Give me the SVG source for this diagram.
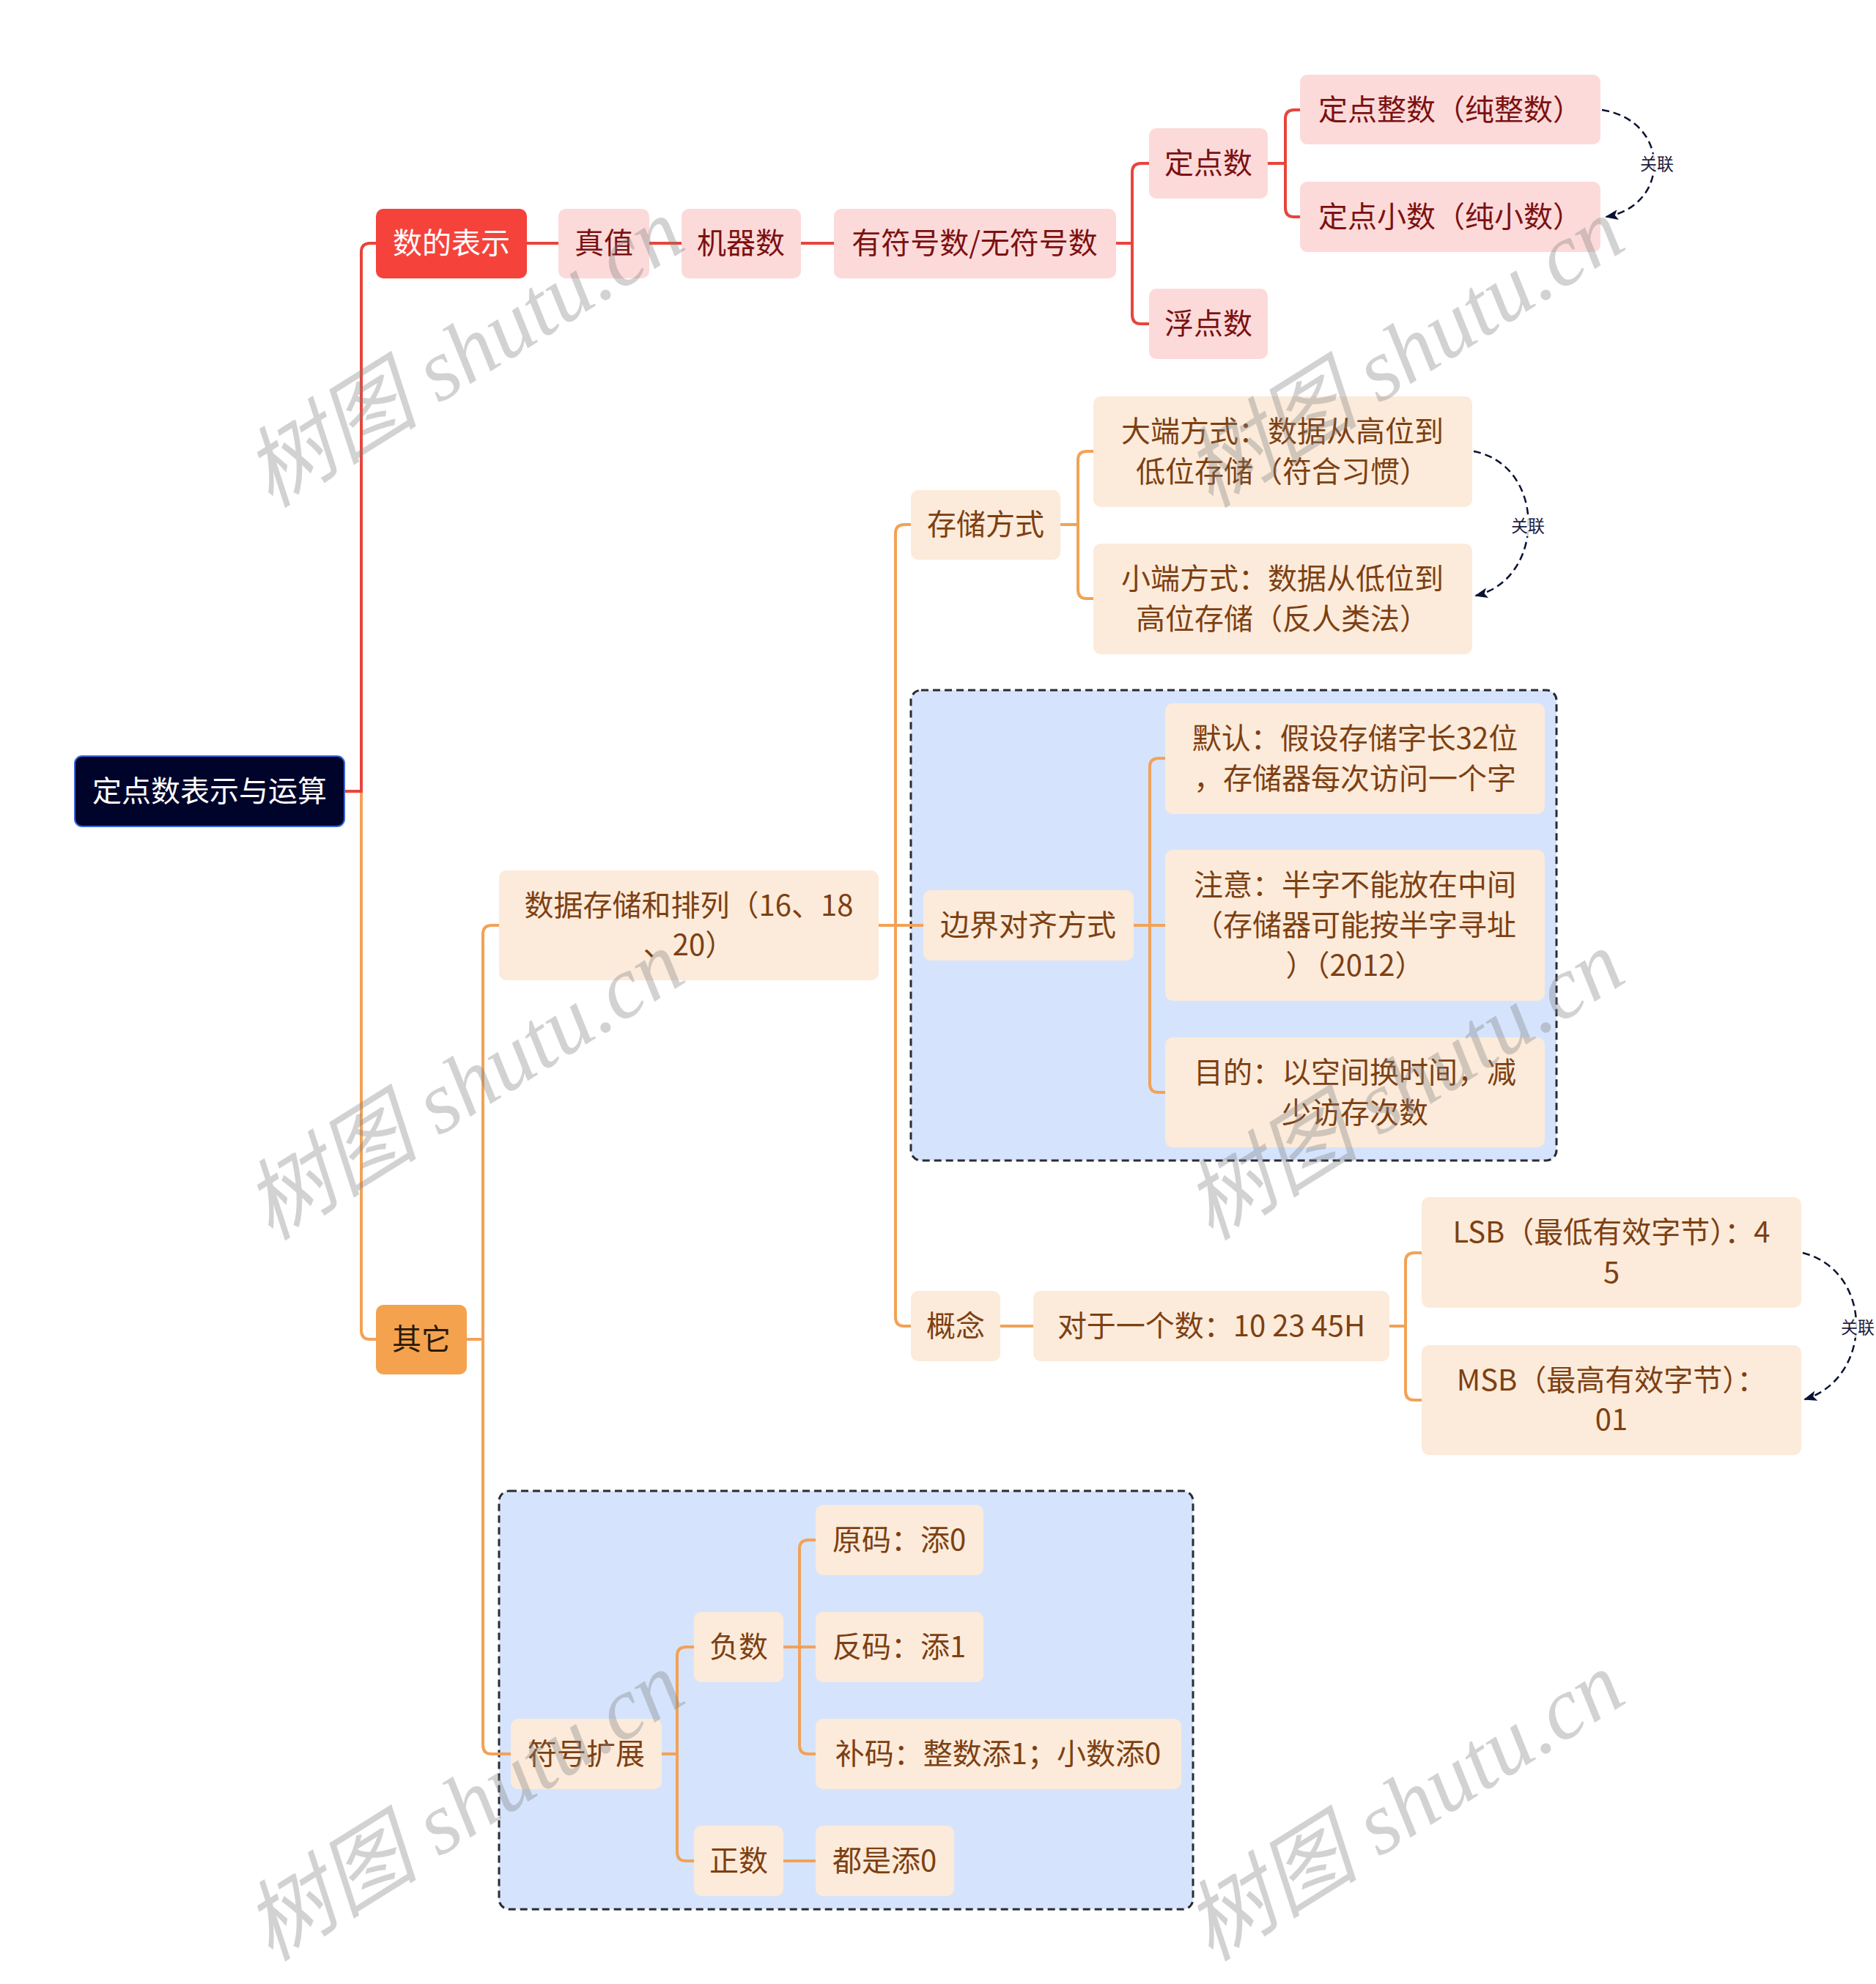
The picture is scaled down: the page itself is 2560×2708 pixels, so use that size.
<svg xmlns="http://www.w3.org/2000/svg" width="2560" height="2708" viewBox="0 0 2560 2708">
<style>
.t{font-family:"Noto Sans CJK SC","Noto Sans",sans-serif;font-size:40px;text-anchor:middle}
.red rect{fill:#fcdada}
.red text{fill:#7b1111}
.org rect{fill:#fcebda}
.org text{fill:#7d4013}
.cr{fill:none;stroke:#e8453c;stroke-width:4}
.co{fill:none;stroke:#f2a257;stroke-width:4}
.grp{fill:#d5e4fc;stroke:#2b2b33;stroke-width:3;stroke-dasharray:10 6}
.rel{fill:none;stroke:#0b1233;stroke-width:2.5;stroke-dasharray:10 6}
.rl{font-family:"Noto Sans CJK SC",sans-serif;font-size:23px;fill:#1a2040;text-anchor:middle}
.wm{font-family:"Liberation Serif","Noto Sans CJK SC",serif;font-style:italic;font-size:120px;fill:#808080;opacity:0.35;text-anchor:middle}
</style>
<defs>
<marker id="ah" markerWidth="20" markerHeight="16" refX="16" refY="7" orient="auto" markerUnits="userSpaceOnUse">
<path d="M0,0 L18,7 L0,14 L4,7 Z" fill="#0b1233"/>
</marker>
</defs>
<rect width="2560" height="2708" fill="#ffffff"/>
<g id="groups">
<rect class="grp" x="1243" y="942" width="881" height="642" rx="14"/>
<rect class="grp" x="681" y="2035" width="947" height="571" rx="14"/>
</g>
<g id="connectors">
<path class="co" d="M470,1080 H493 V1816 Q493,1828 505,1828 H513"/>
<path class="cr" d="M470,1080 H493 V344 Q493,332 505,332 H513"/>
<path class="cr" d="M719,332 H762"/>
<path class="cr" d="M886,332 H930"/>
<path class="cr" d="M1093,332 H1138"/>
<path class="cr" d="M1523,332 H1545 V235 Q1545,223 1557,223 H1568"/>
<path class="cr" d="M1523,332 H1545 V430 Q1545,442 1557,442 H1568"/>
<path class="cr" d="M1730,223 H1754 V162 Q1754,150 1766,150 H1774"/>
<path class="cr" d="M1730,223 H1754 V284 Q1754,296 1766,296 H1774"/>
<path class="co" d="M637,1828 H659 V1275 Q659,1263 671,1263 H681"/>
<path class="co" d="M637,1828 H659 V2382 Q659,2394 671,2394 H697"/>
<path class="co" d="M1199,1263 H1222 V728 Q1222,716 1234,716 H1243"/>
<path class="co" d="M1199,1263 H1260"/>
<path class="co" d="M1199,1263 H1222 V1798 Q1222,1810 1234,1810 H1243"/>
<path class="co" d="M1447,716 H1471 V628 Q1471,616 1483,616 H1492"/>
<path class="co" d="M1447,716 H1471 V805 Q1471,817 1483,817 H1492"/>
<path class="co" d="M1547,1263 H1569 V1047 Q1569,1035 1581,1035 H1590"/>
<path class="co" d="M1547,1263 H1590"/>
<path class="co" d="M1547,1263 H1569 V1479 Q1569,1491 1581,1491 H1590"/>
<path class="co" d="M1365,1810 H1410"/>
<path class="co" d="M1896,1810 H1918 V1722 Q1918,1710 1930,1710 H1940"/>
<path class="co" d="M1896,1810 H1918 V1899 Q1918,1911 1930,1911 H1940"/>
<path class="co" d="M903,2394 H924 V2260 Q924,2248 936,2248 H947"/>
<path class="co" d="M903,2394 H924 V2528 Q924,2540 936,2540 H947"/>
<path class="co" d="M1069,2248 H1091 V2114 Q1091,2102 1103,2102 H1113"/>
<path class="co" d="M1069,2248 H1113"/>
<path class="co" d="M1069,2248 H1091 V2382 Q1091,2394 1103,2394 H1113"/>
<path class="co" d="M1069,2540 H1113"/>
</g>
<g id="n-root"><rect x="102" y="1032" width="368" height="96" rx="10" fill="#00042b" stroke="#3b63d6" stroke-width="2"/><text class="t" x="286" y="1094" fill="#ffffff">定点数表示与运算</text></g>
<g id="n-shudebiaoshi"><rect x="513" y="285" width="206" height="95" rx="10" fill="#f5433b"/><text class="t" x="616" y="346" fill="#ffffff">数的表示</text></g>
<g id="n-qita"><rect x="513" y="1781" width="124" height="95" rx="10" fill="#f5a24f"/><text class="t" x="575" y="1842" fill="#2a1a0a">其它</text></g>
<g class="red">
<g id="n-zhenzhi"><rect x="762" y="285" width="124" height="95" rx="10"/><text class="t" x="824" y="346">真值</text></g>
<g id="n-jiqishu"><rect x="930" y="285" width="163" height="95" rx="10"/><text class="t" x="1011" y="346">机器数</text></g>
<g id="n-youfuhao"><rect x="1138" y="285" width="385" height="95" rx="10"/><text class="t" x="1330" y="346">有符号数/无符号数</text></g>
<g id="n-dingdianshu"><rect x="1568" y="175" width="162" height="96" rx="10"/><text class="t" x="1649" y="237">定点数</text></g>
<g id="n-fudianshu"><rect x="1568" y="394" width="162" height="96" rx="10"/><text class="t" x="1649" y="456">浮点数</text></g>
<g id="n-zhengshu"><rect x="1774" y="102" width="410" height="95" rx="10"/><text class="t" x="1979" y="164">定点整数（纯整数）</text></g>
<g id="n-xiaoshu"><rect x="1774" y="248" width="410" height="96" rx="10"/><text class="t" x="1979" y="310">定点小数（纯小数）</text></g>
</g>
<g class="org">
<g id="n-shujucunchu"><rect x="681" y="1188" width="518" height="150" rx="10"/><text class="t" x="940" y="1250">数据存储和排列（16、18</text><text class="t" x="940" y="1304">、20）</text></g>
<g id="n-cunchufangshi"><rect x="1243" y="669" width="204" height="95" rx="10"/><text class="t" x="1345" y="730">存储方式</text></g>
<g id="n-daduan"><rect x="1492" y="541" width="517" height="151" rx="10"/><text class="t" x="1750" y="603">大端方式：数据从高位到</text><text class="t" x="1750" y="658">低位存储（符合习惯）</text></g>
<g id="n-xiaoduan"><rect x="1492" y="742" width="517" height="151" rx="10"/><text class="t" x="1750" y="804">小端方式：数据从低位到</text><text class="t" x="1750" y="859">高位存储（反人类法）</text></g>
<g id="n-bianjie"><rect x="1260" y="1215" width="287" height="96" rx="10"/><text class="t" x="1403" y="1277">边界对齐方式</text></g>
<g id="n-moren"><rect x="1590" y="960" width="518" height="151" rx="10"/><text class="t" x="1849" y="1022">默认：假设存储字长32位</text><text class="t" x="1849" y="1077">，存储器每次访问一个字</text></g>
<g id="n-zhuyi"><rect x="1590" y="1160" width="518" height="206" rx="10"/><text class="t" x="1849" y="1222">注意：半字不能放在中间</text><text class="t" x="1849" y="1277">（存储器可能按半字寻址</text><text class="t" x="1849" y="1332">）（2012）</text></g>
<g id="n-mudi"><rect x="1590" y="1416" width="518" height="150" rx="10"/><text class="t" x="1849" y="1478">目的：以空间换时间，减</text><text class="t" x="1849" y="1533">少访存次数</text></g>
<g id="n-gainian"><rect x="1243" y="1762" width="122" height="96" rx="10"/><text class="t" x="1304" y="1824">概念</text></g>
<g id="n-duiyu"><rect x="1410" y="1762" width="486" height="96" rx="10"/><text class="t" x="1653" y="1824">对于一个数：10 23 45H</text></g>
<g id="n-lsb"><rect x="1940" y="1634" width="518" height="151" rx="10"/><text class="t" x="2199" y="1696">LSB（最低有效字节）：4</text><text class="t" x="2199" y="1751">5</text></g>
<g id="n-msb"><rect x="1940" y="1836" width="518" height="150" rx="10"/><text class="t" x="2199" y="1898">MSB（最高有效字节）：</text><text class="t" x="2199" y="1952">01</text></g>
<g id="n-fuhaokuozhan"><rect x="697" y="2346" width="206" height="96" rx="10"/><text class="t" x="800" y="2408">符号扩展</text></g>
<g id="n-fushu"><rect x="947" y="2200" width="122" height="96" rx="10"/><text class="t" x="1008" y="2262">负数</text></g>
<g id="n-zhengshu2"><rect x="947" y="2492" width="122" height="96" rx="10"/><text class="t" x="1008" y="2554">正数</text></g>
<g id="n-yuanma"><rect x="1113" y="2054" width="229" height="96" rx="10"/><text class="t" x="1227" y="2116">原码：添0</text></g>
<g id="n-fanma"><rect x="1113" y="2200" width="229" height="96" rx="10"/><text class="t" x="1227" y="2262">反码：添1</text></g>
<g id="n-buma"><rect x="1113" y="2346" width="499" height="96" rx="10"/><text class="t" x="1362" y="2408">补码：整数添1；小数添0</text></g>
<g id="n-dushi"><rect x="1113" y="2492" width="189" height="96" rx="10"/><text class="t" x="1207" y="2554">都是添0</text></g>
</g>
<g id="relations">
<path class="rel" d="M2186,150 C2280,165 2280,280 2192,296" marker-end="url(#ah)"/>
<rect x="2238" y="210" width="46" height="28" fill="#ffffff" opacity="0.8"/>
<text class="rl" x="2261" y="232">关联</text>
<path class="rel" d="M2011,616 C2110,635 2110,790 2014,813" marker-end="url(#ah)"/>
<rect x="2062" y="704" width="46" height="28" fill="#ffffff" opacity="0.8"/>
<text class="rl" x="2085" y="726">关联</text>
<path class="rel" d="M2460,1710 C2557,1735 2557,1880 2463,1910" marker-end="url(#ah)"/>
<rect x="2512" y="1798" width="46" height="28" fill="#ffffff" opacity="0.8"/>
<text class="rl" x="2535" y="1820">关联</text>
</g>
<g id="watermark">
<text class="wm" x="655" y="516" transform="rotate(-32 655 516)">树图 shutu.cn</text>
<text class="wm" x="1938" y="516" transform="rotate(-32 1938 516)">树图 shutu.cn</text>
<text class="wm" x="655" y="1516" transform="rotate(-32 655 1516)">树图 shutu.cn</text>
<text class="wm" x="1938" y="1516" transform="rotate(-32 1938 1516)">树图 shutu.cn</text>
<text class="wm" x="655" y="2500" transform="rotate(-32 655 2500)">树图 shutu.cn</text>
<text class="wm" x="1938" y="2500" transform="rotate(-32 1938 2500)">树图 shutu.cn</text>
</g>
</svg>
